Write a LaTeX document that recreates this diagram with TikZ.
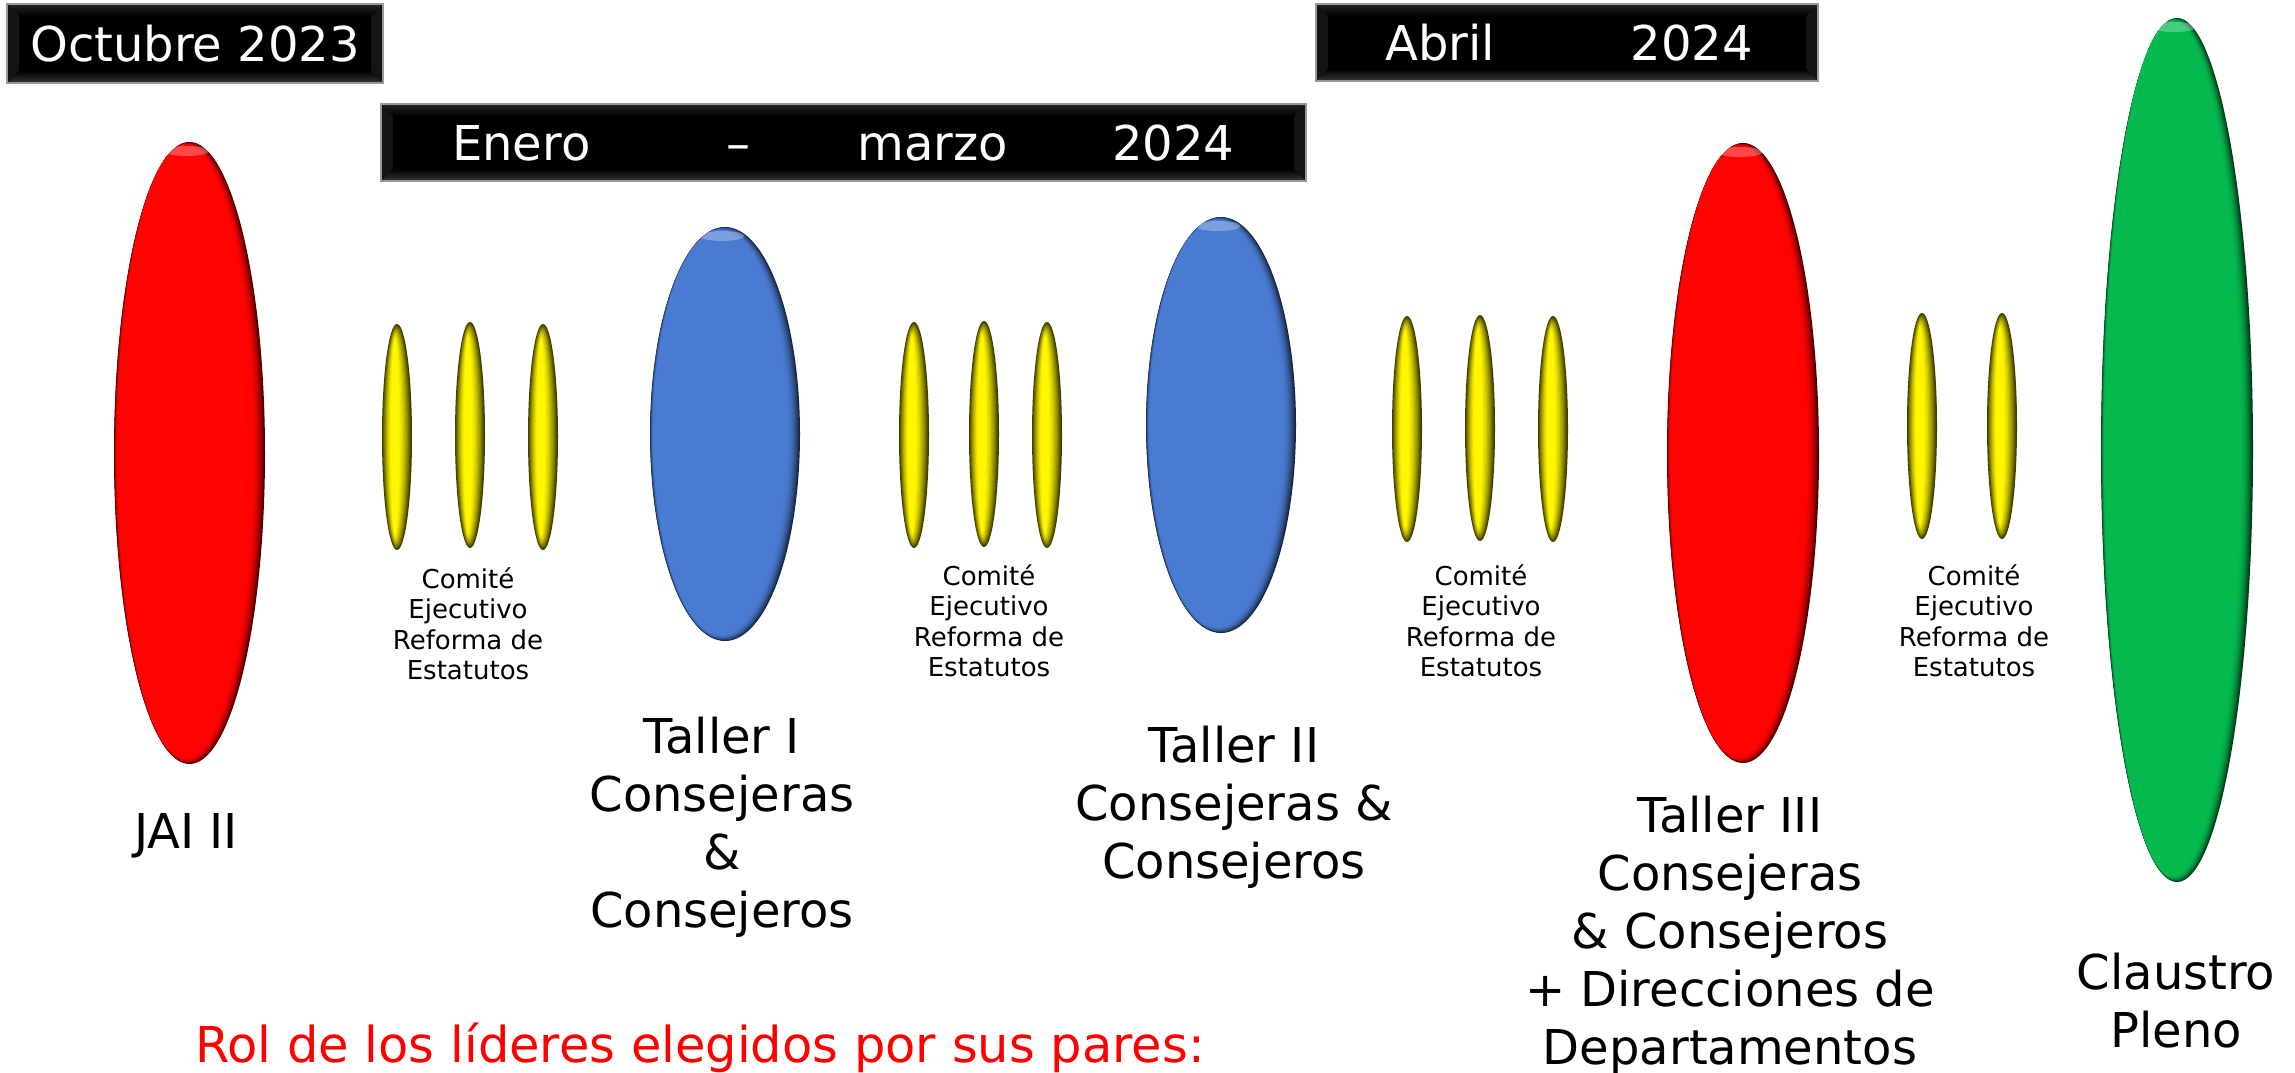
\documentclass[tikz,border=0pt]{standalone}
\usepackage{fontspec}
\setmainfont{DejaVu Sans}
\definecolor{ovred}{HTML}{FF0303}
\definecolor{ovblue}{HTML}{4A7BD2}
\definecolor{ovgreen}{HTML}{05B94F}
\definecolor{yel}{HTML}{FFF600}
\colorlet{rolred}{red}
\newcommand\bigoval[5]{%
  \foreach \i in {0,...,14}{%
    \pgfmathtruncatemacro\pct{100-70*(1-\i/14)*(1-\i/14)}%
    \fill[#5!\pct!black] ({#1-0.33*\i},{#2-0.1*\i}) ellipse [x radius={#3-0.6*\i}, y radius={#4-0.35*\i}];
  }%
  \fill[white, opacity=0.28] ({#1-3},{#2-#4+9}) ellipse [x radius={#3*0.3}, y radius=5];
}
\newcommand\yoval[2]{%
  \foreach \i in {0,...,10}{%
    \pgfmathtruncatemacro\pct{100-75*(1-\i/10)^1.5}%
    \fill[yel!\pct!black] ({#1-0.2*\i},{#2}) ellipse [x radius={15-1.1*\i}, y radius={113-1.5*\i}];
  }}
\newcommand\bevbox[4]{%
  \fill[black] (#1,#2) rectangle (#3,#4);
  \fill[black!92] (#1,#2) -- ({#1+12},{#2+12}) -- ({#1+12},{#4-12}) -- (#1,#4) -- cycle;
  \fill[black!92] (#3,#2) -- ({#3-12},{#2+12}) -- ({#3-12},{#4-12}) -- (#3,#4) -- cycle;
  \shade[top color=black!85, middle color=black!60, bottom color=black] (#1,#2) -- (#3,#2) -- ({#3-12},{#2+12}) -- ({#1+12},{#2+12}) -- cycle;
  \shade[top color=black, bottom color=black!78] (#1,#4) -- (#3,#4) -- ({#3-12},{#4-12}) -- ({#1+12},{#4-12}) -- cycle;
  \draw[black!40, line width=1.2pt] (#1,#2) rectangle (#3,#4);
}
\tikzset{
  bigtxt/.style={font=\fontsize{48}{58}\selectfont, align=center, inner sep=0pt},
  smalltxt/.style={font=\fontsize{26}{30.5}\selectfont, align=center, inner sep=0pt, anchor=north},
  hdrtxt/.style={font=\fontsize{48}{58}\selectfont, text=white, inner sep=0pt},
}
\begin{document}
\begin{tikzpicture}[x=1pt,y=-1pt]
\useasboundingbox[fill=white] (0,0) rectangle (2295,1073);

% header boxes
\bevbox{7}{4}{383}{83}
\node[hdrtxt] (oct) at (195,44) {Octubre 2023};
\bevbox{381}{104}{1306}{181}
\node[hdrtxt, anchor=west] (ene) at (452,143) {Enero\hspace{136pt}–\hspace{107pt}marzo\hspace{104pt}2024};
\bevbox{1316}{4}{1818}{81}
\node[hdrtxt, anchor=west] (abr) at (1385,43) {Abril\hspace{136pt}2024};

% big ovals
\bigoval{189.5}{453}{75.5}{311}{ovred}
\bigoval{725}{434}{75}{207}{ovblue}
\bigoval{1221}{425}{75}{208}{ovblue}
\bigoval{1743}{453}{76}{310}{ovred}
\bigoval{2177}{450}{76}{432}{ovgreen}

% yellow ovals
\yoval{397}{437}\yoval{470}{435}\yoval{543}{437}
\yoval{914}{435}\yoval{984}{434}\yoval{1047}{435}
\yoval{1407}{429}\yoval{1480}{428}\yoval{1553}{429}
\yoval{1922}{426}\yoval{2002}{426}

% small labels
\node[smalltxt] (c1) at (468,567) {Comité\\Ejecutivo\\Reforma de\\Estatutos};
\node[smalltxt] (c2) at (989,564) {Comité\\Ejecutivo\\Reforma de\\Estatutos};
\node[smalltxt] (c3) at (1481,564) {Comité\\Ejecutivo\\Reforma de\\Estatutos};
\node[smalltxt] (c4) at (1974,564) {Comité\\Ejecutivo\\Reforma de\\Estatutos};

% big labels
\node[bigtxt, anchor=base] (jai) at (186,848) {JAI II};
\node[bigtxt, anchor=north] (t1) at (722,717) {Taller I\\Consejeras\\\&\\Consejeros};
\node[bigtxt, anchor=north] (t2) at (1234,726) {Taller II\\Consejeras \&\\Consejeros};
\node[bigtxt, anchor=north] (t3) at (1730,796) {Taller III\\Consejeras\\\& Consejeros\\+ Direcciones de\\Departamentos};
\node[bigtxt, anchor=north] (cl) at (2176,953) {Claustro\\Pleno};
\node[bigtxt, anchor=base, text=rolred, font=\fontsize{49.5}{58}\selectfont] (rol) at (700,1062) {Rol de los líderes elegidos por sus pares:};
\end{tikzpicture}
\end{document}
